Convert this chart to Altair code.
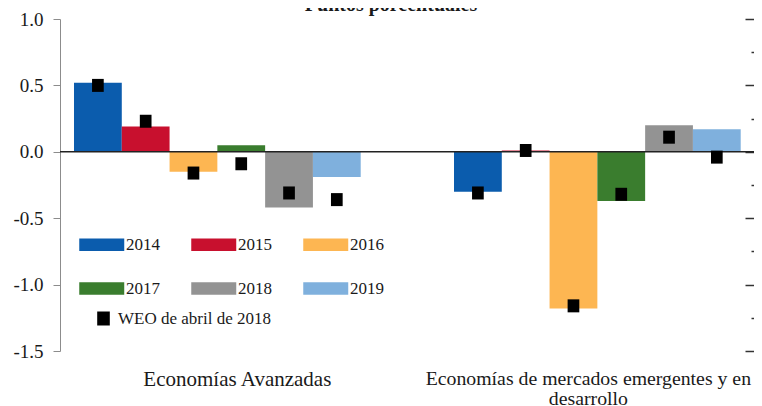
import altair as alt
import pandas as pd

# ---- data ----
groups = ["Economías Avanzadas", "Economías de mercados emergentes y en desarrollo"]
group_lines = ["Economías de mercados emergentes y en", "desarrollo"]
years = ["2014", "2015", "2016", "2017", "2018", "2019"]
ae_values = [0.52, 0.19, -0.15, 0.05, -0.42, -0.19]
ae_weo = [0.50, 0.23, -0.16, -0.09, -0.31, -0.36]
emde_values = [-0.30, 0.01, -1.18, -0.37, 0.20, 0.17]
emde_weo = [-0.31, 0.01, -1.16, -0.32, 0.11, -0.04]
year_colors = ["#0B5CAD", "#C8102E", "#FDB652", "#3A7D2E", "#939393", "#7FB0DD"]
y_ticks = [-1.5, -1.0, -0.5, 0.0, 0.5, 1.0]
right_ticks = [-1.5, -1.25, -1.0, -0.75, -0.5, -0.25, 0.0, 0.25, 0.5, 0.75, 1.0]
baseline_value = [0.0]
title_text = ["Puntos porcentuales"]
weo_label = "WEO de abril de 2018"

rows = []
for g, vals, weos in [(groups[0], ae_values, ae_weo), (groups[1], emde_values, emde_weo)]:
    for yr, v, w in zip(years, vals, weos):
        rows.append({"grupo": g, "anio": yr, "valor": v, "weo": w, "serie": weo_label})
df = pd.DataFrame(rows)
zero_df = pd.DataFrame({"base": baseline_value})
title_df = pd.DataFrame({"titulo": title_text})

W, H = 694, 332
FONT = "Liberation Serif"
TXT = "#1a1a1a"

x_scale = alt.Scale(domain=groups, paddingInner=0.2455, paddingOuter=0.0359, align=0.513)
xo_scale = alt.Scale(domain=years, paddingInner=0, paddingOuter=0)
y_scale = alt.Scale(domain=[-1.5, 1.0], nice=False, zero=False)


def x_axis(expr, offset, size):
    return alt.Axis(
        orient="bottom", title=None, domain=False, ticks=False, tickSize=0, labelAngle=0,
        labelFont=FONT, labelFontSize=size, labelColor=TXT, labelPadding=17,
        labelLineHeight=20, labelBaseline="top", labelExpr=expr,
        labelOverlap=False, labelLimit=0, labelOffset=offset,
    )


ae_label_expr = f"datum.value == '{groups[0]}' ? datum.value : ''"
em_label_expr = f"datum.value == '{groups[1]}' ? ['{group_lines[0]}', '{group_lines[1]}'] : ''"

bars = alt.Chart(df).mark_bar().encode(
    x=alt.X("grupo:N", scale=x_scale, sort=groups, axis=x_axis(ae_label_expr, 20, 21)),
    xOffset=alt.XOffset("anio:N", scale=xo_scale, sort=years),
    y=alt.Y(
        "valor:Q", scale=y_scale,
        axis=alt.Axis(
            title=None, values=y_ticks, grid=False,
            labelExpr="(datum.value < 0 ? '-' : '') + format(abs(datum.value), '.1f')",
            domainColor="#8c8c8c", tickColor="#8c8c8c", tickSize=7, labelPadding=10,
            labelFont=FONT, labelFontSize=19, labelColor=TXT,
        ),
    ),
    color=alt.Color(
        "anio:N", scale=alt.Scale(domain=years, range=year_colors),
        legend=alt.Legend(
            title=None, orient="none", legendX=19, legendY=214, columns=3,
            direction="horizontal", columnPadding=31, rowPadding=24, padding=0,
            symbolType="M-1,-0.55H3V0.55H-1Z", symbolSize=506,
            symbolStrokeWidth=0, symbolOpacity=1,
            labelFont=FONT, labelFontSize=17, labelColor=TXT, labelOffset=24,
        ),
    ),
)

zero = alt.Chart(zero_df).mark_rule(color="#222222", strokeWidth=1.5).encode(
    y=alt.Y("base:Q", scale=y_scale, axis=None)
)

marker_path = "M-0.9,-1H0.9V1H-0.9Z"
markers = alt.Chart(df).mark_point(filled=True, color="black", opacity=1, size=169, strokeWidth=0).encode(
    x=alt.X("grupo:N", scale=x_scale, sort=groups, axis=x_axis(em_label_expr, -9, 19.8)),
    xOffset=alt.XOffset("anio:N", scale=xo_scale, sort=years),
    y=alt.Y(
        "weo:Q", scale=y_scale,
        axis=alt.Axis(
            orient="left", offset=-(W + 1), values=right_ticks, labels=False,
            domain=False, grid=False, title=None, tickColor="#333333", tickWidth=1.5,
            tickSize={"condition": {"test": "abs(datum.value % 0.5) < 0.001", "value": 10}, "value": 4},
        ),
    ),
    shape=alt.Shape(
        "serie:N", scale=alt.Scale(range=[marker_path]),
        legend=alt.Legend(
            title=None, orient="none", legendX=35, legendY=291, padding=0,
            symbolSize=196, symbolType=marker_path, symbolFillColor="black",
            symbolStrokeWidth=0, symbolOpacity=1,
            labelFont=FONT, labelFontSize=17, labelColor=TXT, labelOffset=6,
        ),
    ),
)

# chart heading (cropped at the top edge, as in the reference)
heading = alt.Chart(title_df).mark_text(
    font=FONT, fontSize=20, fontWeight="bold", color=TXT, align="center", baseline="alphabetic"
).encode(text="titulo:N", x=alt.value(331), y=alt.value(-8))

chart = (
    alt.layer(bars, zero, markers, heading)
    .resolve_scale(y="shared", x="shared")
    .resolve_axis(y="independent", x="independent")
    .properties(
        width=W, height=H,
        padding={"left": 52, "top": 11, "right": 0, "bottom": 55},
        autosize=alt.AutoSizeParams(type="none"),
    )
    .configure_view(stroke=None)
)

chart.save("out.html", embed_options={"renderer": "svg", "actions": False})
